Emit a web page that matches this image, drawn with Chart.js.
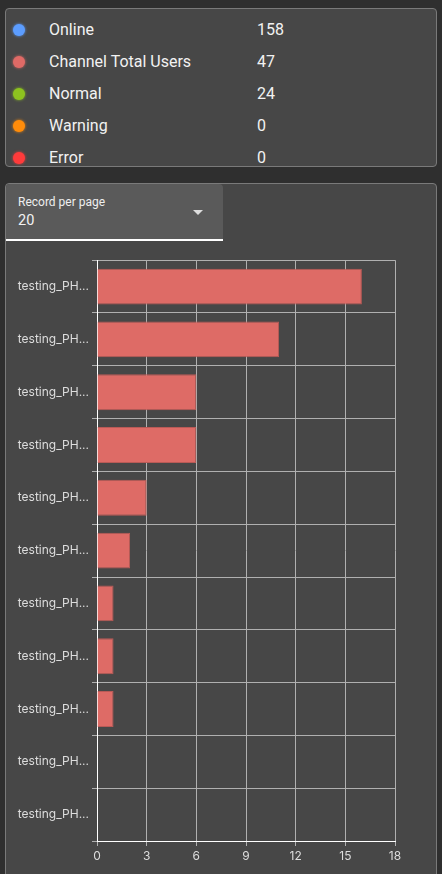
<!DOCTYPE html>
<html>
<head>
<meta charset="utf-8">
<script src="https://cdn.jsdelivr.net/npm/chart.js@4.4.1/dist/chart.umd.min.js"></script>
<style>
  html,body{margin:0;padding:0;background:#2f2f2f;width:442px;height:874px;overflow:hidden;font-family:Roboto,"Liberation Sans",sans-serif;}
  .card{position:absolute;left:5px;width:432px;background:#474747;border:1px solid #7a7a7a;border-radius:4px;box-sizing:border-box;}
  #stats{top:8px;height:159px;overflow:hidden;}
  .row{position:absolute;left:0;height:20px;width:100%;color:#f2f2f2;font-size:16px;line-height:20px;}
  .dot{position:absolute;left:7px;top:4px;width:12px;height:12px;border-radius:50%;}
  .lbl{position:absolute;left:43px;top:0;}
  .val{position:absolute;left:251px;top:0;}
  #chartCard{top:183px;height:720px;}
  #select{position:absolute;left:0;top:0;width:217px;height:57px;background:#5a5a5a;border-radius:4px 4px 0 0;border-bottom:2px solid #ffffff;box-sizing:border-box;}
  #selLbl{position:absolute;left:12px;top:11px;font-size:12px;color:#eeeeee;}
  #selVal{position:absolute;left:12px;top:28px;font-size:14.5px;color:#f2f2f2;}
  #arrow{position:absolute;left:187px;top:26px;width:0;height:0;border-left:5px solid transparent;border-right:5px solid transparent;border-top:5px solid #dddddd;}
  #chartWrap{position:absolute;left:5px;top:250px;width:433px;height:624px;}
</style>
</head>
<body>
<div class="card" id="stats"></div>
<div class="card" id="chartCard">
  <div id="select">
    <div id="selLbl">Record per page</div>
    <div id="selVal">20</div>
    <div id="arrow"></div>
  </div>
</div>
<div id="chartWrap"><canvas id="c"></canvas></div>
<script>
const statLabels = ["Online","Channel Total Users","Normal","Warning","Error"];
const statValues = [158,47,24,0,0];
const statColors = ["#5c9dff","#e06a66","#8dc21f","#ff8c0a","#ff3b3b"];

const categories = ["testing_PH...","testing_PH...","testing_PH...","testing_PH...","testing_PH...","testing_PH...","testing_PH...","testing_PH...","testing_PH...","testing_PH...","testing_PH..."];
const userCounts = [16,11,6,6,3,2,1,1,1,0,0];
const xTicks = [0,3,6,9,12,15,18];

const stats = document.getElementById('stats');
statLabels.forEach((l,i)=>{
  const r = document.createElement('div');
  r.className='row';
  r.style.top = (11 + i*32) + 'px';
  r.innerHTML = '<div class="dot" style="background:'+statColors[i]+';box-shadow:0 0 3px '+statColors[i]+'"></div><div class="lbl">'+l+'</div><div class="val">'+statValues[i]+'</div>';
  stats.appendChild(r);
});

new Chart(document.getElementById('c'), {
  type:'bar',
  data:{labels:categories,datasets:[{data:userCounts,backgroundColor:'#de6b66',borderColor:'#b95a56',borderWidth:1,barPercentage:0.85,categoryPercentage:0.8}]},
  options:{
    indexAxis:'y',responsive:true,maintainAspectRatio:false,animation:false,
    layout:{padding:{top:9,right:43,bottom:11,left:0}},
    plugins:{legend:{display:false},tooltip:{enabled:false}},
    scales:{
      x:{min:0,max:18,
        afterBuildTicks:s=>{s.ticks=xTicks.map(v=>({value:v}));},
        afterFit:s=>{s.height=22;},
        grid:{color:'#b0b0b0',lineWidth:1,tickLength:5,drawTicks:true},
        border:{color:'#ffffff',width:1},
        ticks:{color:'#dddddd',font:{family:'Inter',size:12},padding:3}
      },
      y:{
        afterFit:s=>{s.width=92;},
        grid:{color:'#b0b0b0',lineWidth:1,tickLength:5,offset:true},
        border:{color:'#ffffff',width:1},
        ticks:{color:'#dddddd',font:{family:'Inter',size:12},padding:3}
      }
    }
  }
});
</script>
</body>
</html>
